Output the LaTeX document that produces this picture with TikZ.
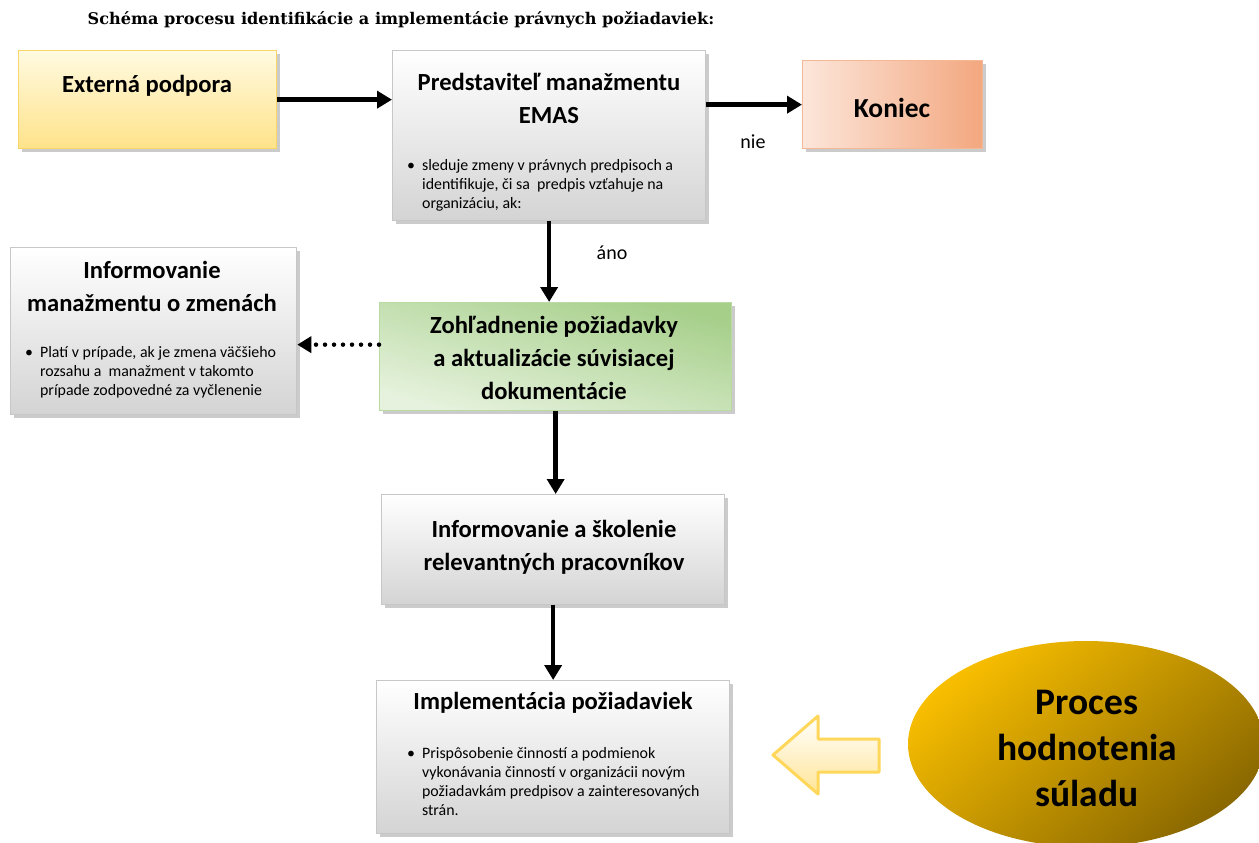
\documentclass[tikz,border=0pt]{standalone}
\usepackage{fontspec}
\setmainfont{Carlito}
\newfontfamily\headfont{DejaVu Serif}
\usetikzlibrary{arrows.meta,shadows,positioning,shapes.geometric}

\definecolor{yeltop}{HTML}{FFFAE0}
\definecolor{yelbot}{HTML}{FFE38A}
\definecolor{yeledge}{HTML}{F8D66A}
\definecolor{saltop}{HTML}{FCE6DA}
\definecolor{salbot}{HTML}{F3A77F}
\definecolor{saledge}{HTML}{F4B896}
\definecolor{grntop}{HTML}{A6CF8A}
\definecolor{grnbot}{HTML}{E6F2DD}
\definecolor{grnedge}{HTML}{B9DBA2}
\definecolor{goldtop}{HTML}{F8BE00}
\definecolor{goldbot}{HTML}{8A6800}
\definecolor{arredge}{HTML}{FFD75A}
\definecolor{arrbot}{HTML}{FFE597}

\newcommand\bul[1]{\textbullet\hspace{7pt}\begin{tabular}[t]{@{}l@{}}#1\end{tabular}}

\tikzset{
  box/.style={anchor=north west, inner sep=0pt, line width=1.3pt,
    drop shadow={shadow xshift=3.5pt, shadow yshift=-3.5pt, fill=black!40}},
  graybox/.style={box, draw=black!22, top color=white, bottom color=black!17},
  headtxt/.style={align=center, inner sep=0pt, font=\bfseries\fontsize{24.6}{33}\selectfont},
  bultxt/.style={anchor=base west, inner sep=0pt, font=\fontsize{15.9}{19}\selectfont},
  flow/.style={line width=4.5pt, -{Triangle[length=15pt,width=17pt]}},
}

\begin{document}
\begin{tikzpicture}[x=1pt,y=-1pt]
  \useasboundingbox[fill=white] (0,0) rectangle (1259,843);

  \node[font=\headfont\bfseries\fontsize{16.1}{18}\selectfont] (title) at (401,20)
    {Schéma procesu identifikácie a implementácie právnych požiadaviek:};

  % boxes
  \node[box, draw=yeledge, top color=yeltop, bottom color=yelbot,
    minimum width=258pt, minimum height=98pt] (ext) at (18,50) {};
  \node[graybox, minimum width=313pt, minimum height=170pt] (pred) at (392,50) {};
  \node[box, draw=saledge, left color=saltop, right color=salbot,
    minimum width=180pt, minimum height=88pt] (kon) at (802,60) {};
  \node[graybox, minimum width=286pt, minimum height=167pt] (info) at (10,247) {};
  \node[box, draw=grnedge, top color=grntop, bottom color=grnbot, shading angle=-15,
    minimum width=352pt, minimum height=108pt] (zoh) at (379,302) {};
  \node[graybox, minimum width=343pt, minimum height=110pt] (skol) at (381,494) {};
  \node[graybox, minimum width=353pt, minimum height=153pt] (impl) at (376,680) {};
  \node[ellipse, inner sep=0pt, top color=goldtop, bottom color=goldbot, shading angle=40,
    minimum width=356pt, minimum height=206pt] (proc) at (1086,744) {};

  % texts
  \node[headtxt] (extT) at (147,86) {Externá podpora};
  \node[headtxt] (predT) at (549,98) {Predstaviteľ manažmentu\\EMAS};
  \node[bultxt] (predB) at (407,170)
    {\bul{sleduje zmeny v právnych predpisoch a\\identifikuje, či sa~ predpis vzťahuje na\\organizáciu, ak:}};
  \node[headtxt, font=\bfseries\fontsize{27.5}{30}\selectfont] (konT) at (892,108) {Koniec};
  \node[headtxt] (infoT) at (152,286) {Informovanie\\manažmentu o zmenách};
  \node[bultxt] (infoB) at (25,357)
    {\bul{Platí v prípade, ak je zmena väčšieho\\rozsahu a~ manažment v takomto\\prípade zodpovedné za vyčlenenie}};
  \node[headtxt] (zohT) at (554,358) {Zohľadnenie požiadavky\\a aktualizácie súvisiacej\\dokumentácie};
  \node[headtxt] (skolT) at (554,547) {Informovanie a školenie\\relevantných pracovníkov};
  \node[headtxt] (implT) at (553,703) {Implementácia požiadaviek};
  \node[bultxt] (implB) at (407,758)
    {\bul{Prispôsobenie činností a podmienok\\vykonávania činností v organizácii novým\\požiadavkám predpisov a zainteresovaných\\strán.}};
  \node[headtxt, font=\bfseries\fontsize{37.5}{46}\selectfont] (procT) at (1087,748)
    {Proces\\hodnotenia\\súladu};
  \node[font=\fontsize{20}{22}\selectfont] (nie) at (753,142) {nie};
  \node[font=\fontsize{20}{22}\selectfont] (ano) at (612,253) {áno};

  % connectors
  \draw[flow] (ext.east) -- (ext.east -| pred.west);
  \draw[flow] (kon.west -| pred.east) -- (kon.west);
  \draw[flow] (pred.south) -- (pred.south |- zoh.north);
  \draw[flow] (zoh.south) -- (zoh.south |- skol.north);
  \draw[flow] (skol.south) -- (impl.north);
  \draw[line width=4.5pt, line cap=round, dash pattern=on 0pt off 9pt,
    -{Triangle[length=14pt,width=16pt]}]
    ([yshift=12pt]zoh.west) -- ([yshift=12pt]zoh.west -| info.east);

  % block arrow
  \draw[draw=arredge, line width=3pt, line join=round, top color=white, bottom color=arrbot]
    (773,755) -- (818,716) -- (818,739) -- (879,739) -- (879,772) -- (818,772)
    -- (818,794) -- cycle;
\end{tikzpicture}
\end{document}
